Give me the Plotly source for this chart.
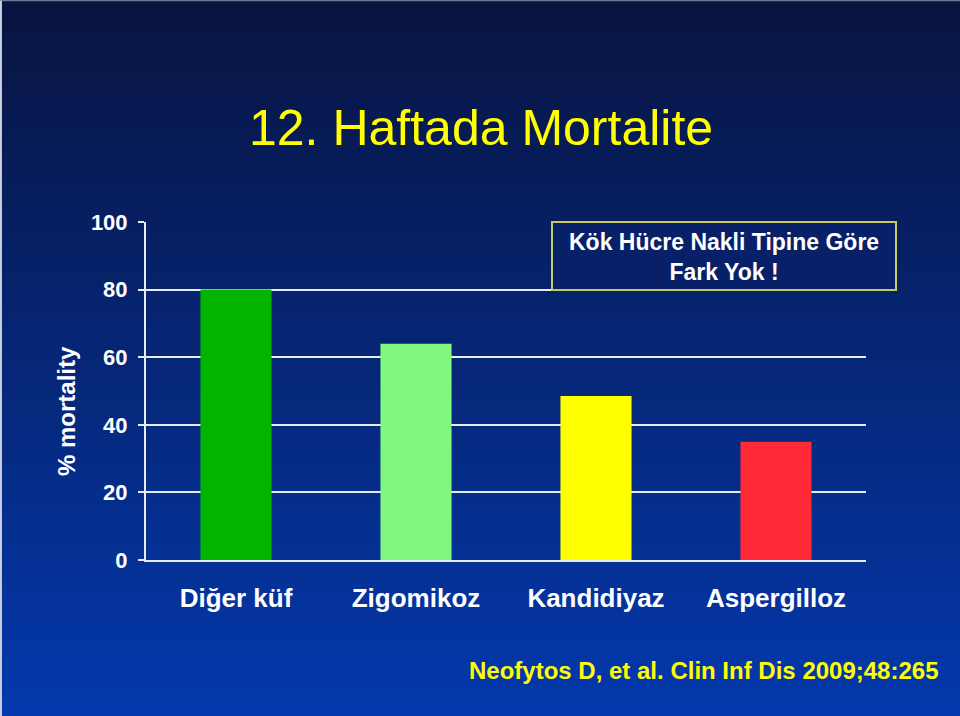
import plotly.graph_objects as go

categories = ["Diğer küf", "Zigomikoz", "Kandidiyaz", "Aspergilloz"]
mortality = [80, 64, 48.5, 35]
bar_colors = ["#00b400", "#80f880", "#ffff00", "#ff2a35"]
y_ticks = [0, 20, 40, 60, 80, 100]

W, H = 960, 716
FONT = "Liberation Sans, Arial, sans-serif"

fig = go.Figure()
fig.add_trace(go.Bar(x=categories, y=mortality, marker=dict(color=bar_colors, line=dict(width=0)),
                     width=0.395, showlegend=False, hoverinfo="skip"))

shapes = []
# background gradient
n = 90
top = (8, 20, 64)
bot = (4, 56, 172)
for i in range(n):
    t = i / (n - 1)
    c = tuple(round(top[k] + (bot[k] - top[k]) * t) for k in range(3))
    shapes.append(dict(type="rect", xref="paper", yref="paper", x0=0, x1=1,
                       y0=1 - (i + 1) / n, y1=1 - i / n + 0.001,
                       fillcolor="rgb(%d,%d,%d)" % c, line=dict(width=0), layer="below"))
# frame edges
shapes.append(dict(type="line", xref="paper", yref="paper", x0=0.001, x1=0.001, y0=0, y1=1,
                   line=dict(color="#c8d0e0", width=2), layer="above"))
shapes.append(dict(type="line", xref="paper", yref="paper", x0=0, x1=1, y0=0.999, y1=0.999,
                   line=dict(color="#8890a8", width=1), layer="above"))
# note box
shapes.append(dict(type="rect", xref="paper", yref="paper",
                   x0=552 / W, x1=896 / W, y0=1 - 290 / H, y1=1 - 222 / H,
                   fillcolor="#082068", line=dict(color="#c8cc60", width=2), layer="above"))

fig.update_layout(
    width=W, height=H,
    margin=dict(l=0, r=0, t=0, b=0, pad=0, autoexpand=False),
    paper_bgcolor="#0a2060", plot_bgcolor="rgba(0,0,0,0)",
    shapes=shapes,
    bargap=0.6,
    xaxis=dict(domain=[146 / W, 866 / W], showgrid=False, showline=True, linecolor="#e8ecf8",
               linewidth=2, ticks="", automargin=False,
               tickfont=dict(family=FONT, size=26, color="white", weight="bold"),
               ticklabelstandoff=14),
    yaxis=dict(domain=[1 - 560 / H, 1 - 222 / H], range=[0, 100], tickvals=y_ticks,
               showgrid=True, gridcolor="#e8ecf8", gridwidth=2, zeroline=False, automargin=False,
               showline=True, linecolor="#e8ecf8", linewidth=2, ticks="outside", ticklen=6,
               tickwidth=2, tickcolor="#e8ecf8", ticklabelstandoff=6,
               tickfont=dict(family=FONT, size=22, color="white", weight="bold")),
    annotations=[
        dict(text="12. Haftada Mortalite", x=481 / W, y=1 - 128 / H, xref="paper", yref="paper",
             showarrow=False, font=dict(family=FONT, size=50, color="#ffff00"),
             xanchor="center", yanchor="middle"),
        dict(text="% mortality", x=66 / W, y=1 - 411 / H, xref="paper", yref="paper",
             showarrow=False, textangle=-90, font=dict(family=FONT, size=24, color="white", weight="bold"),
             xanchor="center", yanchor="middle"),
        dict(text="Kök Hücre Nakli Tipine Göre<br>Fark Yok !", x=724 / W, y=1 - 257 / H,
             xref="paper", yref="paper", showarrow=False, align="center",
             font=dict(family=FONT, size=23, color="white", weight="bold"),
             xanchor="center", yanchor="middle"),
        dict(text="Neofytos D, et al. Clin Inf Dis 2009;48:265", x=941 / W, y=1 - 670 / H,
             xref="paper", yref="paper", showarrow=False,
             font=dict(family=FONT, size=24, color="#ffff00", weight="bold"),
             xanchor="right", yanchor="middle"),
    ],
)

fig.write_html("out.html", config={"displayModeBar": False},
               post_script="document.body.style.margin='0';document.body.style.overflow='hidden';")
